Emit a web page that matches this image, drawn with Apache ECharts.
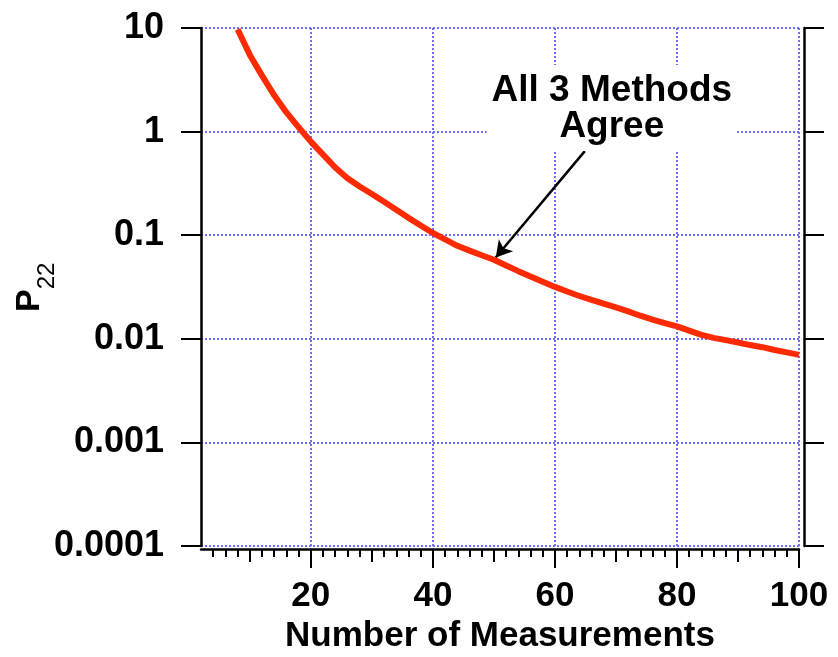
<!DOCTYPE html>
<html>
<head>
<meta charset="utf-8">
<title>P22 vs Number of Measurements</title>
<script src="https://cdn.jsdelivr.net/npm/echarts@6/dist/echarts.min.js"></script>
<style>
html, body { margin: 0; padding: 0; background: #fff; }
#echarts { width: 838px; height: 657px; }
</style>
</head>
<body>
<div id="echarts"></div>
<script>
var nValues = [8, 10, 12, 14, 16, 18, 20, 22, 24, 26, 28, 30, 32, 34, 36, 38, 40,
               42, 44, 46, 48, 50, 52, 54, 56, 58, 60, 62, 64, 66, 68, 70,
               72, 74, 76, 78, 80, 82, 84, 86, 88, 90, 92, 94, 96, 98, 100];
var p22Values = [9.7, 5.5, 3.47, 2.24, 1.53, 1.1, 0.8, 0.6, 0.45, 0.355, 0.295, 0.25, 0.21, 0.176, 0.147, 0.124, 0.105,
                 0.091, 0.079, 0.071, 0.064, 0.058, 0.051, 0.045, 0.040, 0.0356, 0.0317, 0.0286, 0.0259, 0.0237, 0.0218, 0.0201,
                 0.0184, 0.0167, 0.0153, 0.0142, 0.0132, 0.012, 0.0109, 0.0102, 0.0097, 0.0092, 0.0087, 0.0083, 0.0078, 0.0074, 0.0070];

// tick positions on the x axis
var xMajorTicks = [20, 40, 60, 80, 100];
var xMidTicks = [10, 30, 50, 70, 90];
var xMinorTicks = [4, 6, 8, 12, 14, 16, 18, 22, 24, 26, 28, 32, 34, 36, 38, 42, 44, 46, 48,
                   52, 54, 56, 58, 62, 64, 66, 68, 72, 74, 76, 78, 82, 84, 86, 88, 92, 94, 96, 98];
var yTickLabels = ['0.0001', '0.001', '0.01', '0.1', '1', '10'];

// annotation: text + arrow (start -> tip)
var noteText = 'All 3 Methods\nAgree';
var arrowStart = [64.9, 0.648];
var arrowTip = [50.3, 0.061];

window.onload = function () {
    var font = 'Liberation Sans, Arial, Helvetica, sans-serif';
    var seriesData = nValues.map(function (n, i) { return [n, p22Values[i]]; });
    var gridLine = { color: '#6f6fff', width: 2, type: 'dotted' };

    var tickAxis = function (values, len) {   // extra axes only used for tick marks
        return {
            type: 'value', min: 2, max: 100, position: 'bottom', offset: 3,
            axisLine: { show: false },
            axisLabel: { show: false },
            splitLine: { show: false },
            axisTick: { show: true, inside: false, length: len, customValues: values,
                        lineStyle: { color: '#000', width: 2 } }
        };
    };

    var option = {
        animation: false,
        backgroundColor: '#fff',
        grid: { left: 201, right: 39, top: 28, bottom: 111, containLabel: false, outerBoundsMode: 'none' },
        xAxis: [{
            type: 'value', min: 2, max: 100, position: 'bottom', offset: 3,
            name: 'Number of Measurements',
            nameLocation: 'middle', nameGap: 70, nameMoveOverlap: false,
            nameTextStyle: { fontFamily: font, fontWeight: 'bold', fontSize: 35, color: '#000' },
            axisLine: { show: true, lineStyle: { color: '#000', width: 2.5 } },
            axisTick: { show: true, length: 19, customValues: xMajorTicks,
                        lineStyle: { color: '#000', width: 2 } },
            axisLabel: { show: true, customValues: xMajorTicks, margin: 30,
                         fontFamily: font, fontWeight: 'bold', fontSize: 35, color: '#000' },
            splitLine: { show: true, lineStyle: gridLine }
        }, tickAxis(xMidTicks, 13), tickAxis(xMinorTicks, 8)],
        yAxis: [{
            type: 'log', logBase: 10, min: 0.0001, max: 10, position: 'left',
            // P with subscript 22; the g token only makes the line tall enough
            name: '{p|P}{s|22}{g|\u00a0}',
            nameLocation: 'middle', nameGap: 142, nameMoveOverlap: false,
            nameTextStyle: {
                color: '#000',
                rich: {
                    p: { fontFamily: font, fontWeight: 'bold', fontSize: 34, lineHeight: 34, verticalAlign: 'top', color: '#000' },
                    s: { fontFamily: font, fontSize: 24, lineHeight: 24, verticalAlign: 'bottom', color: '#000' },
                    g: { fontSize: 2, lineHeight: 46 }
                }
            },
            axisLine: { show: true, lineStyle: { color: '#000', width: 2.5 } },
            axisTick: { show: true, length: 20, lineStyle: { color: '#000', width: 2 } },
            axisLabel: {
                margin: 37, fontFamily: font, fontWeight: 'bold', fontSize: 36, color: '#000',
                formatter: function (v) {
                    var k = Math.round(Math.log(v) / Math.LN10) + 4;
                    return yTickLabels[k] || '';
                }
            },
            splitLine: { show: true, lineStyle: gridLine }
        }, {
            type: 'log', logBase: 10, min: 0.0001, max: 10, position: 'right', offset: 5,
            axisLine: { show: true, lineStyle: { color: '#000', width: 2.5 } },
            axisTick: { show: true, length: 20, lineStyle: { color: '#000', width: 2 } },
            axisLabel: { show: false },
            splitLine: { show: false }
        }],
        series: [{
            name: 'P22',
            type: 'line',
            xAxisIndex: 0,
            yAxisIndex: 0,
            data: seriesData,
            showSymbol: false,
            smooth: false,
            lineStyle: { color: '#ff2a00', width: 6 },
            z: 5,
            markLine: {
                silent: true,
                symbol: ['none', 'arrow'],
                symbolSize: [14, 16],
                lineStyle: { color: '#000', width: 2.5, type: 'solid' },
                label: { show: false },
                data: [[{ coord: arrowStart }, { coord: arrowTip }]]
            },
            markPoint: {
                silent: true,
                symbol: 'circle',
                symbolSize: 0,
                data: [{
                    coord: arrowStart,
                    label: {
                        show: true, position: 'top', distance: 0, offset: [27, 0],
                        formatter: noteText,
                        fontFamily: font, fontWeight: 'bold', fontSize: 37, lineHeight: 36,
                        color: '#000', backgroundColor: '#fff', padding: [8, 5, 6, 5], align: 'center'
                    }
                }]
            }
        }]
    };

    var myChart = echarts.init(document.getElementById('echarts'));
    myChart.setOption(option);
    window.onresize = function () {
        myChart.resize();
    };
};
</script>
</body>
</html>
